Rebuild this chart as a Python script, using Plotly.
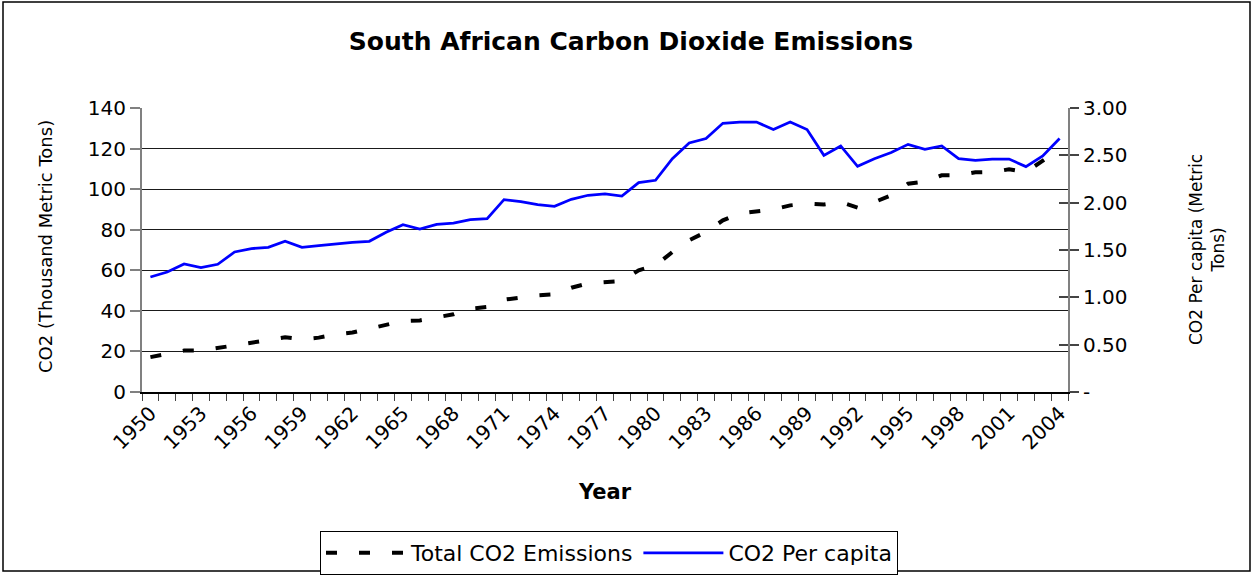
import plotly.graph_objects as go

years = list(range(1950, 2005))

total_co2 = [17.2, 18.9, 20.4, 20.4, 21.5, 23.0, 24.3, 25.5, 27.0, 26.0,
             26.8, 28.4, 29.3, 31.2, 33.0, 35.0, 35.3, 37.0, 38.3, 41.1,
             41.9, 45.5, 46.5, 47.7, 48.2, 51.4, 53.6, 54.2, 54.7, 60.0,
             62.4, 69.0, 74.8, 78.9, 84.6, 88.1, 89.2, 90.0, 92.0, 92.8,
             92.4, 93.6, 90.9, 93.6, 97.0, 102.7, 103.8, 106.8, 106.8, 108.3,
             108.4, 109.8, 108.4, 114.2, 119.6]

per_capita = [1.215, 1.268, 1.352, 1.314, 1.349, 1.479, 1.515, 1.528, 1.592, 1.528,
              1.546, 1.564, 1.581, 1.592, 1.687, 1.768, 1.722, 1.771, 1.785, 1.821,
              1.832, 2.032, 2.011, 1.979, 1.961, 2.035, 2.078, 2.092, 2.070, 2.212,
              2.236, 2.465, 2.630, 2.677, 2.838, 2.852, 2.852, 2.772, 2.852, 2.772,
              2.500, 2.599, 2.384, 2.465, 2.529, 2.616, 2.564, 2.599, 2.465, 2.447,
              2.461, 2.461, 2.381, 2.493, 2.677]

left_ticks = [0, 20, 40, 60, 80, 100, 120, 140]
right_ticks = [0, 0.5, 1.0, 1.5, 2.0, 2.5, 3.0]
right_ticktext = ["-", "0.50", "1.00", "1.50", "2.00", "2.50", "3.00"]
x_ticks = list(range(1950, 2005, 3))

FONT = "DejaVu Sans"

# plot area in pixels
PL, PR, PT, PB = 142, 1068, 108, 392
PW, PH = PR - PL, PB - PT


def px(xp):
    return (xp - PL) / PW


def py(yp):
    return (PB - yp) / PH


fig = go.Figure()
fig.add_trace(go.Scatter(
    x=years, y=total_co2, name="Total CO2 Emissions", mode="lines",
    line=dict(color="black", width=4, dash="11px,22px"), yaxis="y"))
fig.add_trace(go.Scatter(
    x=years, y=per_capita, name="CO2 Per capita", mode="lines",
    line=dict(color="#0000FF", width=2.75), yaxis="y2"))
fig.add_trace(go.Scatter(x=[None], y=[None], yaxis="y3", showlegend=False,
                         hoverinfo="skip"))

fig.update_layout(
    width=1256, height=577,
    margin=dict(l=PL, r=1256 - PR, t=PT, b=577 - PB),
    paper_bgcolor="white", plot_bgcolor="white",
    font=dict(family=FONT, size=20, color="black"),
    showlegend=True,
    title=dict(text="<b>South African Carbon Dioxide Emissions</b>",
               font=dict(family=FONT, size=25, color="black"),
               x=631 / 1256, xanchor="center", xref="container",
               y=1 - 41 / 577, yanchor="middle", yref="container"),
    xaxis=dict(
        range=[1949.5, 2004.5], tickmode="array", tickvals=x_ticks,
        ticktext=[str(v) for v in x_ticks], tickangle=-45,
        ticks="", showgrid=False, zeroline=False,
        showline=True, linecolor="black", linewidth=1.5,
        tickfont=dict(size=20),
        minor=dict(tick0=1949.5, dtick=1, ticks="outside", ticklen=7,
                   tickcolor="#444", tickwidth=1, showgrid=False),
    ),
    yaxis=dict(
        range=[0, 140], tickmode="array", tickvals=left_ticks,
        ticks="outside", ticklen=10, tickcolor="#808080", tickwidth=1.5,
        showgrid=True, gridcolor="#1a1a1a", gridwidth=1,
        zeroline=False, showline=True, linecolor="#808080", linewidth=2,
        tickfont=dict(size=20),
    ),
    yaxis2=dict(
        range=[0, 3], overlaying="y", side="right", anchor="x",
        tickmode="array", tickvals=right_ticks, ticktext=right_ticktext,
        ticks="outside", ticklen=9, tickcolor="#444", tickwidth=1.5,
        showgrid=False, zeroline=False, showline=True,
        linecolor="#808080", linewidth=2, tickfont=dict(size=20),
    ),
    yaxis3=dict(
        range=[0, 3], overlaying="y", side="right", anchor="x",
        tickmode="array", tickvals=right_ticks,
        ticks="inside", ticklen=9, tickcolor="#444", tickwidth=1.5,
        showgrid=False, zeroline=False, showline=False, showticklabels=False,
    ),
    legend=dict(
        orientation="h", x=609 / 1256, xref="container", xanchor="center",
        y=1 - 531 / 577, yref="container", yanchor="top",
        bordercolor="black", borderwidth=1, bgcolor="white",
        font=dict(size=22), itemwidth=80, tracegroupgap=0,
    ),
)

fig.add_annotation(text="CO2 (Thousand Metric Tons)", textangle=-90,
                   x=px(45), y=py(247), xref="paper", yref="paper",
                   xanchor="center", yanchor="middle",
                   showarrow=False, font=dict(size=18))
fig.add_annotation(text="CO2 Per capita (Metric<br>Tons)", textangle=-90,
                   x=px(1207), y=py(250), xref="paper", yref="paper",
                   xanchor="center", yanchor="middle",
                   showarrow=False, font=dict(size=17))
fig.add_annotation(text="<b>Year</b>", x=px(605), y=py(492),
                   xref="paper", yref="paper", xanchor="center", yanchor="middle",
                   showarrow=False, font=dict(size=21))

fig.add_shape(type="rect", xref="paper", yref="paper",
              x0=px(3), x1=px(1250), y0=py(571), y1=py(2),
              line=dict(color="black", width=1.5), layer="below")

fig.write_html("out.html")
